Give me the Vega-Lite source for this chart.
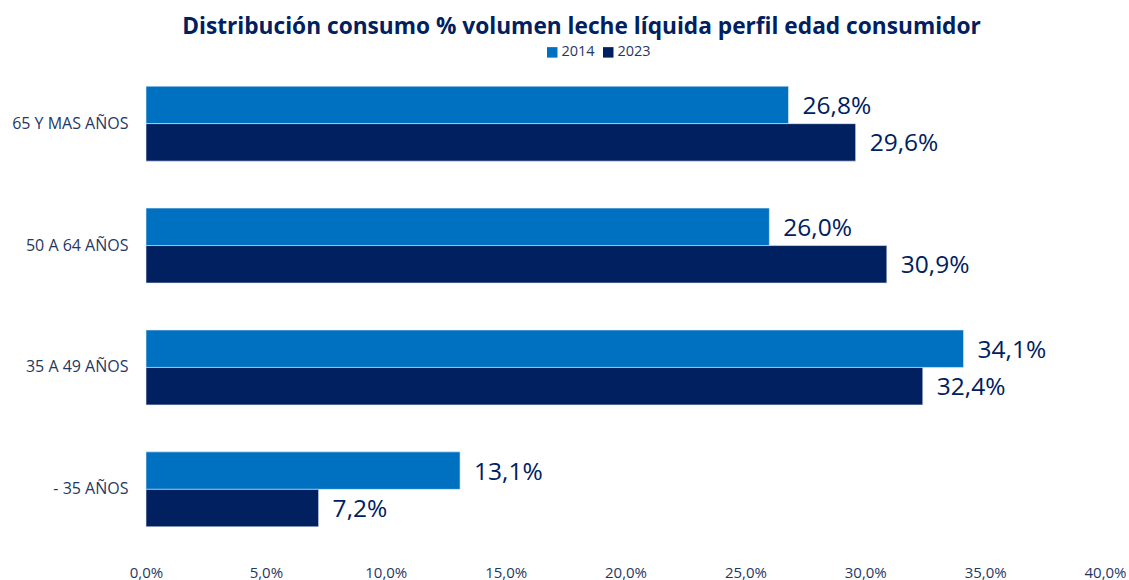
{
  "$schema": "https://vega.github.io/schema/vega-lite/v6.json",
  "width": 959,
  "height": 487,
  "autosize": {"type": "none"},
  "padding": {"left": 146, "top": 63, "right": 24, "bottom": 30},
  "background": "white",
  "config": {
    "view": {"stroke": null},
    "font": "Open Sans",
    "locale": {"number": {"decimal": ",", "thousands": ".", "grouping": [3], "currency": ["", " €"]}}
  },
  "title": {
    "text": "Distribución consumo % volumen leche líquida perfil edad consumidor",
    "font": "Open Sans",
    "fontSize": 22.7,
    "fontWeight": "bold",
    "color": "#002060",
    "anchor": "middle",
    "frame": "group",
    "dx": -44,
    "offset": 6
  },
  "data": {
    "values": [
      {"edad": "65 Y MAS AÑOS", "anio": "2014", "valor": 0.268},
      {"edad": "65 Y MAS AÑOS", "anio": "2023", "valor": 0.296},
      {"edad": "50 A 64 AÑOS", "anio": "2014", "valor": 0.260},
      {"edad": "50 A 64 AÑOS", "anio": "2023", "valor": 0.309},
      {"edad": "35 A 49 AÑOS", "anio": "2014", "valor": 0.341},
      {"edad": "35 A 49 AÑOS", "anio": "2023", "valor": 0.324},
      {"edad": "- 35 AÑOS", "anio": "2014", "valor": 0.131},
      {"edad": "- 35 AÑOS", "anio": "2023", "valor": 0.072}
    ]
  },
  "encoding": {
    "y": {
      "field": "edad",
      "type": "nominal",
      "sort": ["65 Y MAS AÑOS", "50 A 64 AÑOS", "35 A 49 AÑOS", "- 35 AÑOS"],
      "scale": {"paddingInner": 0.385, "paddingOuter": 0.19},
      "axis": {
        "title": null,
        "domain": false,
        "ticks": false,
        "labelPadding": 18,
        "labelFontSize": 16,
        "labelColor": "#1F3864",
        "labelFont": "Open Sans"
      }
    },
    "yOffset": {"field": "anio", "type": "nominal", "sort": ["2014", "2023"]},
    "x": {
      "field": "valor",
      "type": "quantitative",
      "scale": {"domain": [0, 0.4], "nice": false},
      "axis": {
        "title": null,
        "format": ".1%",
        "values": [0, 0.05, 0.1, 0.15, 0.2, 0.25, 0.3, 0.35, 0.4],
        "grid": false,
        "domain": false,
        "ticks": false,
        "labelFlush": false,
        "labelOverlap": false,
        "labelPadding": 15,
        "labelFontSize": 15,
        "labelColor": "#1F3864",
        "labelFont": "Open Sans"
      }
    }
  },
  "layer": [
    {
      "mark": {"type": "bar", "stroke": "#e8eef8", "strokeWidth": 0.6},
      "encoding": {
        "color": {
          "field": "anio",
          "type": "nominal",
          "scale": {"domain": ["2014", "2023"], "range": ["#0070C0", "#002060"]},
          "legend": {
            "title": null,
            "orient": "none",
            "direction": "horizontal",
            "legendX": 399,
            "legendY": -18,
            "symbolType": "square",
            "symbolSize": 110,
            "symbolStrokeWidth": 0,
            "labelFontSize": 14.5,
            "labelColor": "#1F3864",
            "labelFont": "Open Sans",
            "labelOffset": 2,
            "columnPadding": 6
          }
        }
      }
    },
    {
      "mark": {"type": "text", "align": "left", "baseline": "middle", "dx": 14, "dy": 2, "fontSize": 24.5, "color": "#002060", "font": "Open Sans"},
      "encoding": {
        "text": {"field": "valor", "type": "quantitative", "format": ".1%"}
      }
    }
  ]
}
